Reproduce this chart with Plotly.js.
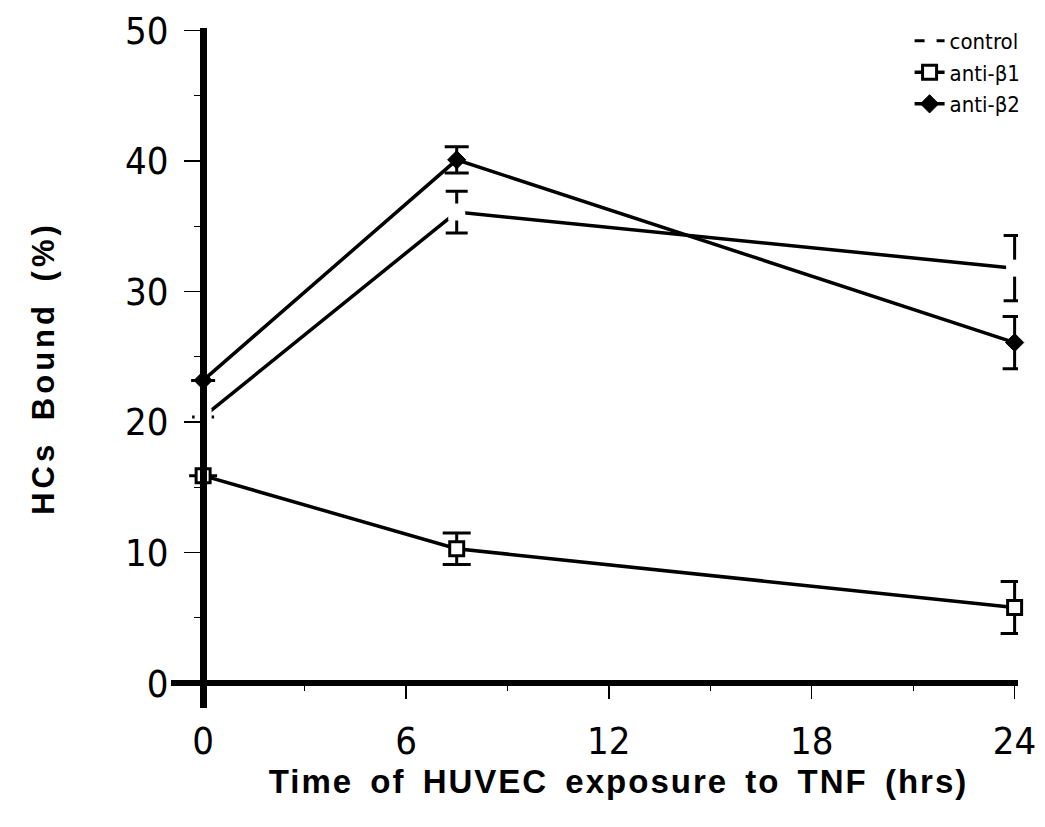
<!DOCTYPE html>
<html>
<head>
<meta charset="utf-8">
<script src="https://cdn.plot.ly/plotly-3.0.1.min.js"></script>
<style>
  html, body { margin: 0; padding: 0; background: #fff; }
  .xtitle { letter-spacing: 2px; word-spacing: 6px; transform: translateX(24px); }
  .ytitle { letter-spacing: 4px; word-spacing: 8px; }
</style>
</head>
<body>
<div id="chart" style="width:1045px;height:827px;"></div>
<script>
// ---- data ----
const hours = [0, 7.5, 24];
const controlVals = [20.4, 36.1, 31.8];
const controlErr  = [null, 1.6, 2.5];
const beta1Vals   = [15.9, 10.3, 5.8];
const beta1Err    = [null, 1.2, 2.0];
const beta2Vals   = [23.2, 40.1, 26.1];
const beta2Err    = [null, 1.0, 2.0];
const xTickVals   = [0, 6, 12, 18, 24];
const xMinorVals  = [3, 9, 15, 21];
const yTickVals   = [0, 10, 20, 30, 40, 50];
const yMinorVals  = [5, 15, 25, 35, 45];
const seriesNames = ['control', 'anti-β1', 'anti-β2'];

const narrow = '"DejaVu Sans Condensed", "Liberation Sans Narrow", sans-serif';
const boldFont = '"Liberation Sans", Arial, sans-serif';

const errStyle = (arr, w) => ({ type: 'data', array: arr, visible: true, color: '#000', thickness: 3, width: w });

const traces = [
  { // legend entry for control (dashed symbol as in the key)
    x: [null], y: [null], type: 'scatter', mode: 'lines', name: seriesNames[0],
    line: { color: '#000', width: 3, dash: '10px,12px' }, legendgroup: 'c', hoverinfo: 'skip'
  },
  {
    x: hours, y: controlVals, type: 'scatter', mode: 'lines+markers', name: seriesNames[0],
    showlegend: false, legendgroup: 'c', cliponaxis: false,
    line: { color: '#000', width: 3.5 },
    marker: { symbol: 'square', size: 17, color: '#fff', line: { width: 0 } },
    error_y: errStyle(controlErr, 11)
  },
  {
    x: hours, y: beta1Vals, type: 'scatter', mode: 'lines+markers', name: seriesNames[1],
    cliponaxis: false,
    line: { color: '#000', width: 3.5 },
    marker: { symbol: 'square', size: 14, color: '#fff', line: { color: '#000', width: 3 } },
    error_y: errStyle(beta1Err, 14)
  },
  {
    x: hours, y: beta2Vals, type: 'scatter', mode: 'lines+markers', name: seriesNames[2],
    cliponaxis: false,
    line: { color: '#000', width: 3.5 },
    marker: { symbol: 'diamond', size: 14, color: '#000', line: { color: '#000', width: 1 } },
    error_y: errStyle(beta2Err, 12)
  }
];

const xr = [-0.95, 24.1];
const yr = [-1.9, 50.2];

const layout = {
  width: 1045, height: 827,
  margin: { l: 171, r: 27, t: 28, b: 119, autoexpand: false },
  paper_bgcolor: '#fff', plot_bgcolor: '#fff',
  showlegend: true,
  legend: {
    x: 0.872, y: 1.012, xanchor: 'left', yanchor: 'top',
    font: { family: narrow, size: 22, color: '#000' },
    bgcolor: 'rgba(0,0,0,0)', borderwidth: 0, tracegroupgap: 0
  },
  xaxis: {
    range: xr, domain: [0, 1], anchor: 'free', position: (0 - yr[0]) / (yr[1] - yr[0]),
    showline: true, linewidth: 6, linecolor: '#000',
    zeroline: false, showgrid: false,
    tickmode: 'array', tickvals: xTickVals, ticktext: xTickVals.map(String),
    ticks: 'outside', ticklen: 13, tickwidth: 1.5, tickcolor: '#000',
    ticklabelstandoff: 9,
    minor: { tickmode: 'array', tickvals: xMinorVals, ticks: 'outside', ticklen: 5, tickwidth: 1, tickcolor: '#000', showgrid: false },
    tickfont: { family: narrow, size: 38, color: '#000' },
    title: { text: 'Time of HUVEC exposure to TNF (hrs)', font: { family: boldFont, size: 33, weight: 'bold', color: '#000' }, standoff: 4 }
  },
  yaxis: {
    range: yr, domain: [0, 1], anchor: 'free', position: (0 - xr[0]) / (xr[1] - xr[0]),
    showline: true, linewidth: 7, linecolor: '#000',
    zeroline: false, showgrid: false,
    tickmode: 'array', tickvals: yTickVals, ticktext: yTickVals.map(String),
    ticks: 'outside', ticklen: 16, tickwidth: 1.5, tickcolor: '#000',
    ticklabelstandoff: 8,
    minor: { tickmode: 'array', tickvals: yMinorVals, ticks: 'outside', ticklen: 6, tickwidth: 1, tickcolor: '#000', showgrid: false },
    tickfont: { family: narrow, size: 38, color: '#000' },
    title: { text: 'HCs Bound (%)', font: { family: boldFont, size: 31, weight: 'bold', color: '#000' }, standoff: 60 }
  }
};

Plotly.newPlot('chart', traces, layout, { displayModeBar: false, staticPlot: true });
</script>
</body>
</html>
